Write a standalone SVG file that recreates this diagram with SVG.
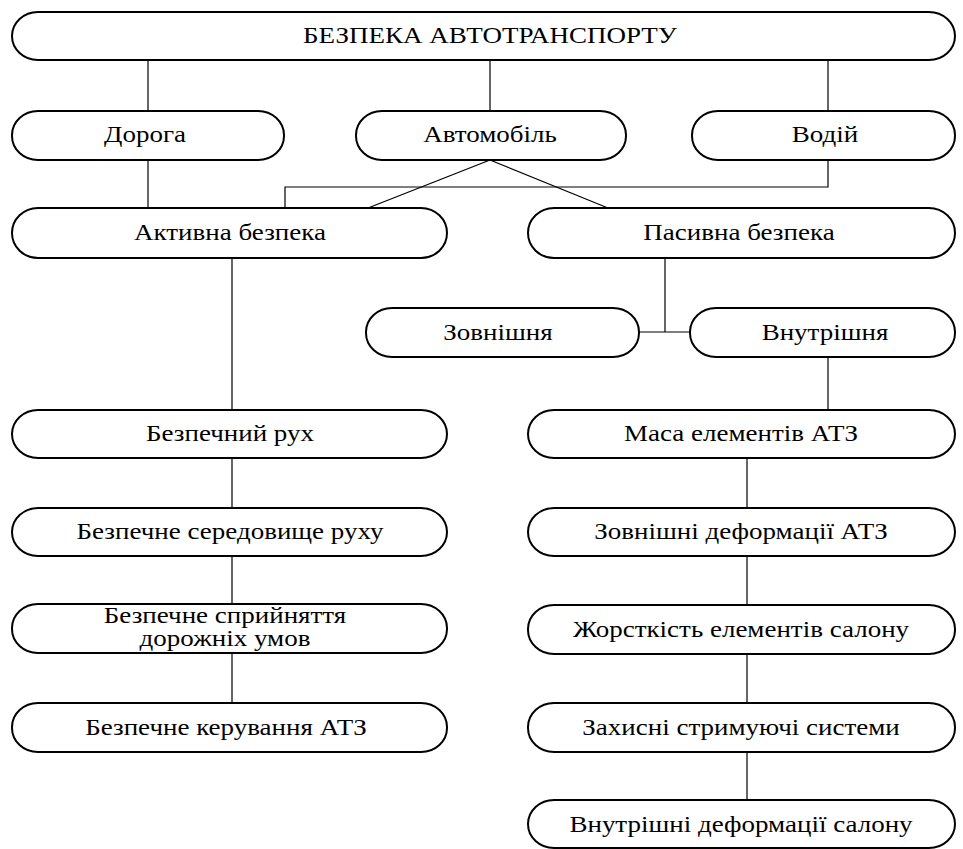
<svg xmlns="http://www.w3.org/2000/svg" width="963" height="849" viewBox="0 0 963 849">
  <style>
    .node rect { fill: #ffffff; stroke: #000000; stroke-width: 2; }
    .node text { font-family: "Times New Roman", Times, "Liberation Serif", "DejaVu Serif", serif; font-size: 22.5px; fill: #000000; text-anchor: middle; }
    #connectors line, #connectors polyline { stroke: #000000; stroke-width: 1.2; fill: none; }
  </style>
  <rect width="963" height="849" fill="#ffffff"/>

  <g id="connectors">
    <line x1="148" y1="60" x2="148" y2="111"/>
    <line x1="490" y1="60" x2="490" y2="111"/>
    <line x1="828" y1="60" x2="828" y2="111"/>
    <line x1="148" y1="160" x2="148" y2="208"/>
    <line x1="490" y1="160" x2="368" y2="208"/>
    <line x1="490" y1="160" x2="608" y2="208"/>
    <polyline points="828,160 828,187 285,187 285,208"/>
    <line x1="665" y1="258" x2="665" y2="332"/>
    <line x1="639" y1="332" x2="690" y2="332"/>
    <line x1="828" y1="357" x2="828" y2="410"/>
    <line x1="232" y1="258" x2="232" y2="410"/>
    <line x1="232" y1="458" x2="232" y2="508"/>
    <line x1="232" y1="556" x2="232" y2="604"/>
    <line x1="232" y1="653" x2="232" y2="703"/>
    <line x1="747" y1="458" x2="747" y2="508"/>
    <line x1="747" y1="556" x2="747" y2="605"/>
    <line x1="747" y1="654" x2="747" y2="703"/>
    <line x1="747" y1="752" x2="747" y2="800"/>
  </g>

  <!-- labels are set in a serif face, widened horizontally -->
  <g id="n-root" class="node">
    <rect x="12" y="12" width="943" height="48" rx="26" ry="24"/>
    <text transform="translate(490,43) scale(1.2,1)">БЕЗПЕКА АВТОТРАНСПОРТУ</text>
  </g>
  <g id="n-road" class="node">
    <rect x="12" y="111" width="272" height="49" rx="26" ry="24"/>
    <text transform="translate(145,142) scale(1.2,1)">Дорога</text>
  </g>
  <g id="n-car" class="node">
    <rect x="356" y="111" width="270" height="49" rx="26" ry="24"/>
    <text transform="translate(490,142) scale(1.2,1)">Автомобіль</text>
  </g>
  <g id="n-driver" class="node">
    <rect x="692" y="111" width="263" height="49" rx="26" ry="24"/>
    <text transform="translate(825,142) scale(1.2,1)">Водій</text>
  </g>
  <g id="n-active" class="node">
    <rect x="12" y="208" width="435" height="50" rx="26" ry="25"/>
    <text transform="translate(230,240) scale(1.2,1)">Активна безпека</text>
  </g>
  <g id="n-passive" class="node">
    <rect x="528" y="208" width="427" height="50" rx="26" ry="25"/>
    <text transform="translate(739,240) scale(1.2,1)">Пасивна безпека</text>
  </g>
  <g id="n-external" class="node">
    <rect x="366" y="308" width="273" height="49" rx="26" ry="24"/>
    <text transform="translate(498,340) scale(1.2,1)">Зовнішня</text>
  </g>
  <g id="n-internal" class="node">
    <rect x="690" y="308" width="265" height="49" rx="26" ry="24"/>
    <text transform="translate(825,340) scale(1.2,1)">Внутрішня</text>
  </g>
  <g id="n-safe-motion" class="node">
    <rect x="12" y="410" width="435" height="48" rx="26" ry="24"/>
    <text transform="translate(230,441) scale(1.2,1)">Безпечний рух</text>
  </g>
  <g id="n-safe-env" class="node">
    <rect x="12" y="508" width="435" height="48" rx="26" ry="24"/>
    <text transform="translate(230,539) scale(1.2,1)">Безпечне середовище руху</text>
  </g>
  <g id="n-safe-perception" class="node">
    <rect x="12" y="604" width="435" height="49" rx="26" ry="24"/>
    <text transform="translate(225,623) scale(1.2,1)">Безпечне сприйняття</text>
    <text transform="translate(225,646) scale(1.2,1)">дорожніх умов</text>
  </g>
  <g id="n-safe-control" class="node">
    <rect x="12" y="703" width="435" height="49" rx="26" ry="24"/>
    <text transform="translate(226,735) scale(1.2,1)">Безпечне керування АТЗ</text>
  </g>
  <g id="n-mass" class="node">
    <rect x="528" y="410" width="427" height="48" rx="26" ry="24"/>
    <text transform="translate(741,441) scale(1.2,1)">Маса елементів АТЗ</text>
  </g>
  <g id="n-ext-deform" class="node">
    <rect x="528" y="508" width="427" height="48" rx="26" ry="24"/>
    <text transform="translate(741,539) scale(1.2,1)">Зовнішні деформації АТЗ</text>
  </g>
  <g id="n-rigidity" class="node">
    <rect x="528" y="605" width="427" height="49" rx="26" ry="24"/>
    <text transform="translate(741,637) scale(1.2,1)">Жорсткість елементів салону</text>
  </g>
  <g id="n-restraints" class="node">
    <rect x="528" y="703" width="427" height="49" rx="26" ry="24"/>
    <text transform="translate(741,735) scale(1.2,1)">Захисні стримуючі системи</text>
  </g>
  <g id="n-int-deform" class="node">
    <rect x="528" y="800" width="427" height="48" rx="26" ry="24"/>
    <text transform="translate(741,832) scale(1.2,1)">Внутрішні деформації салону</text>
  </g>
</svg>
